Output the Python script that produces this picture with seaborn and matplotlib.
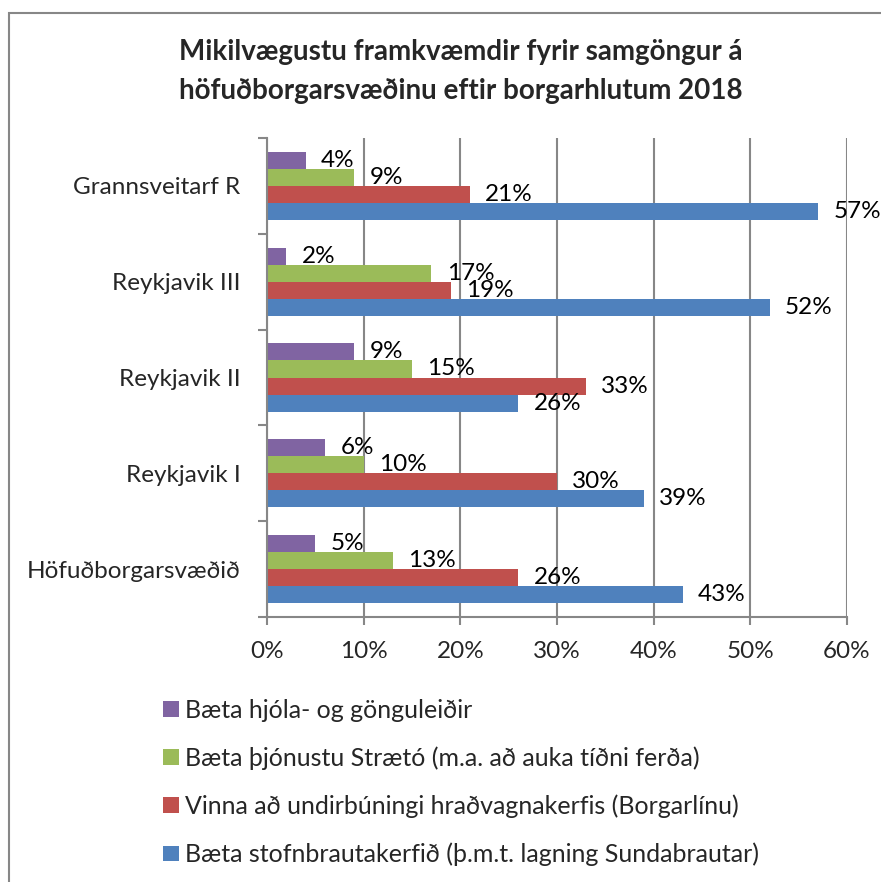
import matplotlib
matplotlib.use("Agg")
import matplotlib.pyplot as plt
import matplotlib.ticker as mticker
from matplotlib.patches import Rectangle
import seaborn as sns
import pandas as pd

# Data: share of respondents (%) naming each project, by city area
areas = ["Grannsveitarf R", "Reykjavik III", "Reykjavik II", "Reykjavik I", "Höfuðborgarsvæðið"]
series = [
    "Bæta hjóla- og gönguleiðir",
    "Bæta þjónustu Strætó (m.a. að auka tíðni ferða)",
    "Vinna að undirbúningi hraðvagnakerfis (Borgarlínu)",
    "Bæta stofnbrautakerfið (þ.m.t. lagning Sundabrautar)",
]
hjola = [4, 2, 9, 6, 5]
straeto = [9, 17, 15, 10, 13]
borgarlina = [21, 19, 33, 30, 26]
stofnbrautir = [57, 52, 26, 39, 43]
colors = ["#8064A2", "#9BBB59", "#C0504D", "#4F81BD"]
x_ticks = [0, 10, 20, 30, 40, 50, 60]

title = "Mikilvægustu framkvæmdir fyrir samgöngur á\nhöfuðborgarsvæðinu eftir borgarhlutum 2018"

df = pd.DataFrame({
    "area": areas * 4,
    "series": sum([[s] * len(areas) for s in series], []),
    "value": hjola + straeto + borgarlina + stofnbrautir,
})

sns.set_theme(style="white")
plt.rcParams["font.family"] = ["Lato", "DejaVu Sans"]

W, H = 881, 882
fig = plt.figure(figsize=(W / 100, H / 100), dpi=100)
ax = fig.add_axes([267 / W, 1 - 617 / H, (847 - 267) / W, (617 - 138) / H])

sns.barplot(
    data=df, x="value", y="area", hue="series", order=areas, hue_order=series,
    palette=colors, orient="h", width=0.71, gap=0, ax=ax, legend=True,
    saturation=1, edgecolor="none",
)

grid_col = "#878787"
ax.set_xlim(0, 60)
ax.set_ylim(len(areas) - 0.5, -0.5)
ax.set_xticks(x_ticks)
ax.xaxis.set_major_formatter(mticker.FuncFormatter(lambda v, p: f"{v:.0f}%"))
ax.grid(axis="x", color=grid_col, linewidth=1.5)
ax.set_axisbelow(True)
ax.set_xlabel("")
ax.set_ylabel("")

# Category labels centred on groups, tick marks at group boundaries
ax.set_yticks([i + 0.5 for i in range(-1, len(areas))])
ax.set_yticklabels([])
ax.set_yticks(range(len(areas)), minor=True)
ax.set_yticklabels(areas, minor=True, fontsize=17.5)
ax.tick_params(axis="y", which="major", length=6.5, width=1.5, color=grid_col, left=True)
ax.tick_params(axis="y", which="minor", length=0, pad=19)
ax.tick_params(axis="x", length=6, width=1.5, color=grid_col, bottom=True, labelsize=17.5, pad=11)

for side in ["top", "right"]:
    ax.spines[side].set_visible(False)
for side in ["left", "bottom"]:
    ax.spines[side].set_color(grid_col)
    ax.spines[side].set_linewidth(1.5)

for cont in ax.containers:
    ax.bar_label(cont, labels=[f"{v:.0f}%" for v in cont.datavalues],
                 padding=11, fontsize=17.5, color="black")

handles, labels = ax.get_legend_handles_labels()
ax.legend_.remove()
fig.legend(
    handles, labels, loc="upper left", bbox_to_anchor=(153 / W, 1 - 689 / H),
    frameon=False, fontsize=18, handlelength=0.64, handleheight=0.6,
    handletextpad=0.24, labelspacing=0.98, borderaxespad=0,
)

fig.text(461 / W, 1 - 71.5 / H, title, ha="center", va="center",
         fontsize=20, fontweight="bold", linespacing=1.6)

# Outer chart-area border
fig.patches.append(Rectangle((8.5 / W, -0.1), 1.2, 1 - 13 / H + 0.1,
                             transform=fig.transFigure, fill=False,
                             edgecolor=grid_col, linewidth=1.5))

fig.savefig("out.png", dpi=100, facecolor="white")
